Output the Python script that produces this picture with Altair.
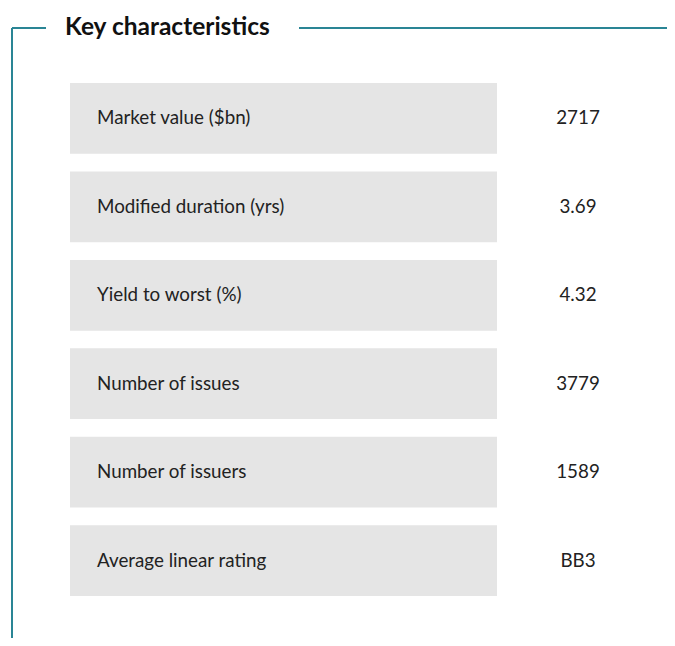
import altair as alt
import pandas as pd

title_text = "Key characteristics"
labels = [
    "Market value ($bn)",
    "Modified duration (yrs)",
    "Yield to worst (%)",
    "Number of issues",
    "Number of issuers",
    "Average linear rating",
]
values = ["2717", "3.69", "4.32", "3779", "1589", "BB3"]

df = pd.DataFrame({"label": labels, "value": values, "order": list(range(len(labels)))})

FONT = "Lato"
LINE = "#2a8595"

W, H = 659, 630

y = alt.Y("label:N", sort=labels, axis=None,
          scale=alt.Scale(range=[75, 588], paddingInner=0.2, paddingOuter=0))

base = alt.Chart(df)

rects = base.mark_rect(color="#e5e5e5").encode(
    y=y, x=alt.value(62), x2=alt.value(489)
)
lab = base.mark_text(align="left", baseline="middle", font=FONT, fontSize=18.8, color="#222222").encode(
    y=y, x=alt.value(89), text="label:N"
)
val = base.mark_text(align="center", baseline="middle", font=FONT, fontSize=18.8, color="#222222").encode(
    y=y, x=alt.value(570), text="value:N"
)

line_df = pd.DataFrame({"k": [0]})
lb = alt.Chart(line_df)
top_left = lb.mark_rule(color=LINE, strokeWidth=2).encode(
    x=alt.value(4), x2=alt.value(38), y=alt.value(20)
)
top_right = lb.mark_rule(color=LINE, strokeWidth=2).encode(
    x=alt.value(291), x2=alt.value(W), y=alt.value(20)
)
left = lb.mark_rule(color=LINE, strokeWidth=2).encode(
    x=alt.value(4), y=alt.value(20), y2=alt.value(H)
)
title = alt.Chart(pd.DataFrame({"t": [title_text]})).mark_text(
    align="left", baseline="alphabetic", font=FONT, fontSize=24.5, fontWeight="bold", color="#111111"
).encode(x=alt.value(57), y=alt.value(27), text="t:N")

chart = alt.layer(rects, lab, val, top_left, top_right, left, title).properties(
    width=W, height=H, padding=0, autosize=alt.AutoSizeParams(type="none")
).configure_view(stroke=None)

chart.save("out.html", embed_options={"renderer": "svg", "actions": False})
